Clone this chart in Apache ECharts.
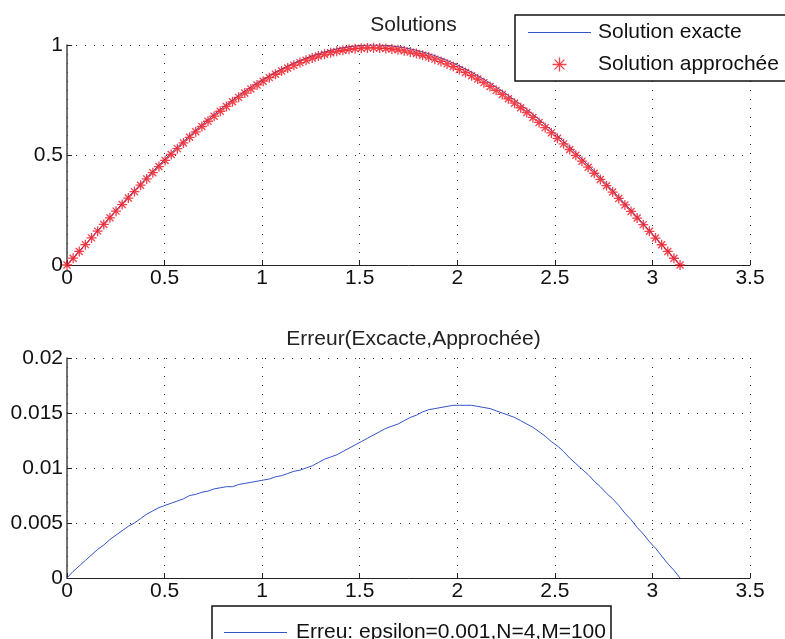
<!DOCTYPE html>
<html>
<head>
<meta charset="utf-8">
<script src="https://cdn.jsdelivr.net/npm/echarts@6/dist/echarts.min.js"></script>
<style>html,body{margin:0;padding:0;background:#fff}#c{width:785px;height:639px}</style>
</head>
<body>
<div id="c"></div>
<script>
const xValues = [0,0.0314,0.0628,0.0942,0.1257,0.1571,0.1885,0.2199,0.2513,0.2827,0.3142,0.3456,0.3770,0.4084,0.4398,0.4712,0.5027,0.5341,0.5655,0.5969,0.6283,0.6597,0.6912,0.7226,0.7540,0.7854,0.8168,0.8482,0.8796,0.9111,0.9425,0.9739,1.0053,1.0367,1.0681,1.0996,1.1310,1.1624,1.1938,1.2252,1.2566,1.2881,1.3195,1.3509,1.3823,1.4137,1.4451,1.4765,1.5080,1.5394,1.5708,1.6022,1.6336,1.6650,1.6965,1.7279,1.7593,1.7907,1.8221,1.8535,1.8850,1.9164,1.9478,1.9792,2.0106,2.0420,2.0735,2.1049,2.1363,2.1677,2.1991,2.2305,2.2619,2.2934,2.3248,2.3562,2.3876,2.4190,2.4504,2.4819,2.5133,2.5447,2.5761,2.6075,2.6389,2.6704,2.7018,2.7332,2.7646,2.7960,2.8274,2.8588,2.8903,2.9217,2.9531,2.9845,3.0159,3.0473,3.0788,3.1102,3.1416];
const exactValues = [0,0.0314,0.0628,0.0941,0.1253,0.1564,0.1874,0.2181,0.2487,0.2790,0.3090,0.3387,0.3681,0.3971,0.4258,0.4540,0.4818,0.5090,0.5358,0.5621,0.5878,0.6129,0.6374,0.6613,0.6845,0.7071,0.7290,0.7501,0.7705,0.7902,0.8090,0.8271,0.8443,0.8607,0.8763,0.8910,0.9048,0.9178,0.9298,0.9409,0.9511,0.9603,0.9686,0.9759,0.9823,0.9877,0.9921,0.9956,0.9980,0.9995,1.0000,0.9995,0.9980,0.9956,0.9921,0.9877,0.9823,0.9759,0.9686,0.9603,0.9511,0.9409,0.9298,0.9178,0.9048,0.8910,0.8763,0.8607,0.8443,0.8271,0.8090,0.7902,0.7705,0.7501,0.7290,0.7071,0.6845,0.6613,0.6374,0.6129,0.5878,0.5621,0.5358,0.5090,0.4818,0.4540,0.4258,0.3971,0.3681,0.3387,0.3090,0.2790,0.2487,0.2181,0.1874,0.1564,0.1253,0.0941,0.0628,0.0314,0];
const approxValues = [0,0.0308,0.0617,0.0925,0.1232,0.1538,0.1844,0.2146,0.2448,0.2747,0.3043,0.3337,0.3627,0.3913,0.4197,0.4476,0.4752,0.5022,0.5288,0.5549,0.5803,0.6053,0.6296,0.6534,0.6764,0.6989,0.7207,0.7418,0.7620,0.7816,0.8003,0.8183,0.8354,0.8517,0.8671,0.8817,0.8953,0.9081,0.9200,0.9309,0.9409,0.9498,0.9578,0.9649,0.9711,0.9762,0.9803,0.9835,0.9856,0.9868,0.9870,0.9862,0.9844,0.9818,0.9781,0.9734,0.9677,0.9611,0.9535,0.9450,0.9357,0.9254,0.9142,0.9021,0.8891,0.8753,0.8606,0.8451,0.8288,0.8117,0.7938,0.7752,0.7557,0.7355,0.7147,0.6931,0.6708,0.6480,0.6245,0.6005,0.5758,0.5506,0.5249,0.4986,0.4719,0.4446,0.4170,0.3888,0.3604,0.3315,0.3024,0.2731,0.2434,0.2135,0.1834,0.1531,0.1226,0.0921,0.0615,0.0307,0];
const errorValues = [0,0.0006,0.0011,0.0016,0.0021,0.0026,0.0030,0.0035,0.0039,0.0043,0.0047,0.0050,0.0054,0.0058,0.0061,0.0064,0.0066,0.0068,0.0070,0.0072,0.0075,0.0076,0.0078,0.0079,0.0081,0.0082,0.0083,0.0083,0.0085,0.0086,0.0087,0.0088,0.0089,0.0090,0.0092,0.0093,0.0095,0.0097,0.0098,0.0100,0.0102,0.0105,0.0108,0.0110,0.0112,0.0115,0.0118,0.0121,0.0124,0.0127,0.0130,0.0133,0.0136,0.0138,0.0140,0.0143,0.0146,0.0148,0.0151,0.0153,0.0154,0.0155,0.0156,0.0157,0.0157,0.0157,0.0157,0.0156,0.0155,0.0154,0.0152,0.0150,0.0148,0.0146,0.0143,0.0140,0.0137,0.0133,0.0129,0.0124,0.0120,0.0115,0.0109,0.0104,0.0099,0.0094,0.0088,0.0083,0.0077,0.0072,0.0066,0.0059,0.0053,0.0046,0.0040,0.0033,0.0027,0.0020,0.0013,0.0007,0];
const xTicks = [0,0.5,1,1.5,2,2.5,3,3.5];
const topYTicks = [0,0.5,1];
const bottomYTicks = [0,0.005,0.01,0.015,0.02];
const titles = ['Solutions','Erreur(Excacte,Approchée)'];
const seriesNames = ['Solution exacte','Solution approchée','Erreu: epsilon=0.001,N=4,M=100'];

const FONT = '"Liberation Sans", Arial, Helvetica, sans-serif';
const FS = 21;
const zip = (xs, ys) => xs.map((x, i) => [x, ys[i]]);
const starPath = 'path://M0,5L10,5M5,0L5,10M1.5,1.5L8.5,8.5M8.5,1.5L1.5,8.5';
const lineIcon = 'path://M0,0L63,0L63,1.1L0,1.1Z';
const BLUE = '#3354c6';
const RED = '#f0101c';

function xAxisCfg(idx) {
  return {
    gridIndex: idx, type: 'value', min: xTicks[0], max: xTicks[xTicks.length - 1], interval: 0.5,
    axisLine: { show: true, lineStyle: { color: '#222', width: 1 } },
    axisTick: { show: true, inside: true, length: 5, lineStyle: { color: '#222' } },
    axisLabel: { color: '#111', fontSize: FS, fontFamily: FONT, margin: 3 },
    splitLine: { show: true, lineStyle: { color: '#333', type: [1, 8], width: 1 } }
  };
}
function yAxisCfg(idx, ticks, interval) {
  return {
    gridIndex: idx, type: 'value', min: ticks[0], max: ticks[ticks.length - 1], interval: interval,
    axisLine: { show: true, lineStyle: { color: '#444', width: 1.5 } },
    axisTick: { show: true, inside: true, length: 5, lineStyle: { color: '#222' } },
    axisLabel: { color: '#111', fontSize: FS, fontFamily: FONT, margin: 4 },
    splitLine: { show: true, lineStyle: { color: '#333', type: [1, 8], width: 1 } }
  };
}

const chart = echarts.init(document.getElementById('c'), null, { renderer: 'canvas' });
chart.setOption({
  animation: false,
  backgroundColor: '#fff',
  title: [
    { text: titles[0], left: 408.5, top: 10, textAlign: 'center',
      textStyle: { fontSize: FS, fontWeight: 'normal', color: '#222', fontFamily: FONT } },
    { text: titles[1], left: 408.5, top: 324, textAlign: 'center',
      textStyle: { fontSize: FS, fontWeight: 'normal', color: '#222', fontFamily: FONT } }
  ],
  graphic: [
    { type: 'rect', z: 90, shape: { x: 515, y: 15, width: 300, height: 66 },
      style: { fill: '#fff', stroke: '#111', lineWidth: 1.5 } },
    { type: 'rect', z: 90, shape: { x: 212, y: 606, width: 399, height: 60 },
      style: { fill: '#fff', stroke: '#111', lineWidth: 1.5 } }
  ],
  legend: [
    { left: 515, top: 15, orient: 'vertical', itemWidth: 63, itemHeight: 14, itemGap: 11, z: 100,
      padding: [7, 10, 6, 13],
      textStyle: { fontSize: FS, color: '#111', fontFamily: FONT, padding: [0, 0, 0, 2] },
      data: [
        { name: seriesNames[0], icon: lineIcon, itemStyle: { color: BLUE } },
        { name: seriesNames[1], icon: starPath, itemStyle: { color: 'none', borderColor: RED, borderWidth: 1.3 } }
      ] },
    { left: 212, top: 606, orient: 'vertical', itemWidth: 63, itemHeight: 14, z: 100,
      padding: [16, 9, 10, 12],
      textStyle: { fontSize: FS, color: '#111', fontFamily: FONT, padding: [0, 0, 0, 4] },
      data: [{ name: seriesNames[2], icon: lineIcon, itemStyle: { color: BLUE } }] }
  ],
  grid: [
    { left: 67, right: 35, top: 45, height: 220, containLabel: false },
    { left: 67, right: 35, top: 358, height: 220, containLabel: false }
  ],
  xAxis: [xAxisCfg(0), xAxisCfg(1)],
  yAxis: [yAxisCfg(0, topYTicks, 0.5), yAxisCfg(1, bottomYTicks, 0.005)],
  series: [
    { name: seriesNames[0], type: 'line', xAxisIndex: 0, yAxisIndex: 0, symbol: 'none',
      data: zip(xValues, exactValues), lineStyle: { color: BLUE, width: 1 }, itemStyle: { color: BLUE } },
    { name: seriesNames[1], type: 'scatter', xAxisIndex: 0, yAxisIndex: 0, symbol: starPath, symbolSize: 10,
      data: zip(xValues, approxValues), itemStyle: { color: 'none', borderColor: RED, borderWidth: 1.3 }, z: 3 },
    { name: seriesNames[2], type: 'line', xAxisIndex: 1, yAxisIndex: 1, symbol: 'none',
      data: zip(xValues, errorValues), lineStyle: { color: BLUE, width: 1 }, itemStyle: { color: BLUE } }
  ]
});
</script>
</body>
</html>
